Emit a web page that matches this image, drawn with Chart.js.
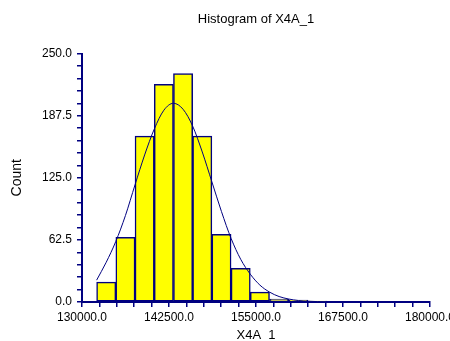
<!DOCTYPE html>
<html>
<head>
<meta charset="utf-8">
<script src="https://cdn.jsdelivr.net/npm/chart.js@4/dist/chart.umd.min.js"></script>
<style>
  html, body { margin: 0; padding: 0; background: #fff; overflow: hidden; }
  #wrap { width: 450px; height: 341px; overflow: hidden; }
  canvas { display: block; }
</style>
</head>
<body>
<div id="wrap"><canvas id="hist" width="470" height="341"></canvas></div>
<script>
// Histogram bins (bin centres) and their counts
const binCenters = [133480, 136240, 139000, 141760, 144520, 147280, 150040, 152800, 155560, 158320, 161080, 163840];
const counts     = [20, 65, 167, 219, 230, 167, 68, 34, 10, 3, 2, 1];

// Fitted normal density curve, scaled to counts
const curveX = [132100, 133480, 134860, 136240, 137620, 139000, 140380, 141760, 143140, 144520, 145900, 147280,
                148660, 150040, 151420, 152800, 154180, 155560, 156940, 158320, 159700, 161080, 162460, 163840, 165220];
const curveY = [22, 40, 61, 87, 118, 148, 174, 193, 200, 194, 177, 151,
                121, 91, 64, 43, 28, 17, 10, 5.5, 3, 1.5, 0.8, 0.4, 0.2];

// Labelled tick values on each axis
const xLabelValues = [130000, 142500, 155000, 167500, 180000];
const yLabelValues = [0, 62.5, 125, 187.5, 250];

const NAVY = '#000080';
const FONT = 'Liberation Sans, Arial, sans-serif';

new Chart(document.getElementById('hist'), {
  data: {
    datasets: [
      {
        type: 'line',
        order: 0,
        data: curveX.map((x, i) => ({ x, y: curveY[i] })),
        borderColor: NAVY,
        borderWidth: 1,
        pointRadius: 0,
        fill: false,
        cubicInterpolationMode: 'monotone'
      },
      {
        type: 'bar',
        order: 1,
        data: binCenters.map((x, i) => ({ x, y: counts[i] })),
        backgroundColor: '#FFFF00',
        borderColor: NAVY,
        borderWidth: 1.5,
        borderSkipped: false,
        barThickness: 'flex',
        categoryPercentage: 1,
        barPercentage: 1
      }
    ]
  },
  options: {
    responsive: false,
    devicePixelRatio: 1,
    animation: false,
    layout: { padding: { left: 0, right: 40, top: 0, bottom: 0 } },
    plugins: {
      legend: { display: false },
      tooltip: { enabled: false },
      title: {
        display: true,
        text: 'Histogram of X4A_1',
        fullSize: false,
        color: '#000',
        font: { family: FONT, size: 13, weight: 'normal' },
        padding: { top: 12, bottom: 26 }
      }
    },
    scales: {
      x: {
        type: 'linear',
        min: 130000,
        max: 180000,
        offset: false,
        afterFit: (s) => { s.height = 39; },
        border: { display: true, color: NAVY, width: 2 },
        grid: { display: true, offset: false, drawOnChartArea: false, drawTicks: true, tickLength: 5, color: NAVY, lineWidth: 1.5 },
        ticks: {
          stepSize: 2500,
          autoSkip: false,
          maxRotation: 0,
          minRotation: 0,
          padding: 3,
          color: '#000',
          font: { family: FONT, size: 12 },
          callback: (v) => xLabelValues.includes(v) ? v.toFixed(1) : ''
        },
        title: {
          display: true,
          text: 'X4A_1',
          color: '#000',
          font: { family: FONT, size: 13 },
          padding: { top: 0, bottom: -2 }
        }
      },
      y: {
        type: 'linear',
        min: 0,
        max: 250,
        afterFit: (s) => { s.width = 82; },
        border: { display: true, color: NAVY, width: 2 },
        grid: { display: true, drawOnChartArea: false, drawTicks: true, tickLength: 5, color: NAVY, lineWidth: 1.5 },
        ticks: {
          stepSize: 12.5,
          autoSkip: false,
          padding: 5,
          color: '#000',
          font: { family: FONT, size: 12 },
          callback: (v) => yLabelValues.includes(v) ? v.toFixed(1) : ''
        },
        title: {
          display: true,
          text: 'Count',
          color: '#000',
          font: { family: FONT, size: 14 },
          padding: { top: 9, bottom: 0 }
        }
      }
    }
  }
});
</script>
</body>
</html>
